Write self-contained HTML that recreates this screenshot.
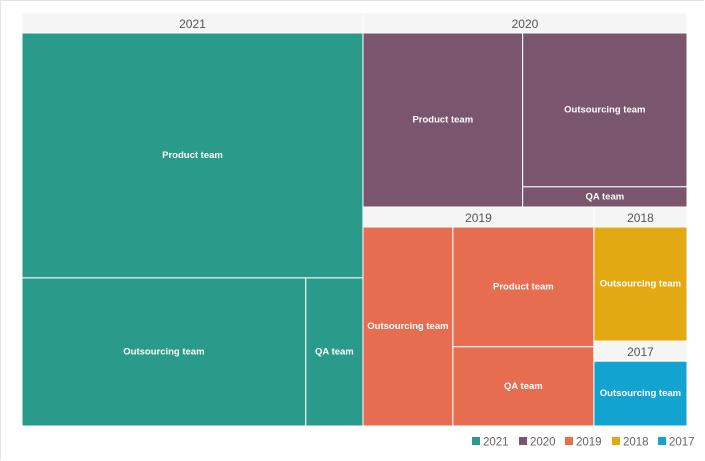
<!DOCTYPE html>
<html><head><meta charset="utf-8">
<style>
html,body{margin:0;padding:0;background:#fff;}
body{width:705px;height:461px;overflow:hidden;position:relative;font-family:"Liberation Sans",sans-serif;}
#frame{position:absolute;left:0;top:0;width:703px;height:459px;border:1px solid #e4e4e4;border-right:none;border-bottom:none;}
svg{position:absolute;left:0;top:0;}
</style></head>
<body>
<div id="frame"></div>
<svg id="chart" width="705" height="461"></svg>
<script>
const years = ["2021","2020","2019","2018","2017"];
const colors = ["#2a9a8a","#79566e","#e76d51","#e3a912","#12a3d1"];
const teams2021 = ["Product team","Outsourcing team","QA team"];
const values2021 = [87.8,44.2,8.9];
const teams2020 = ["Product team","Outsourcing team","QA team"];
const values2020 = [31.0,28.2,3.7];
const teams2019 = ["Outsourcing team","Product team","QA team"];
const values2019 = [19.7,18.6,12.3];
const teams2018 = ["Outsourcing team"];
const values2018 = [12.5];
const teams2017 = ["Outsourcing team"];
const values2017 = [7.9];

const groupTeams=[teams2021,teams2020,teams2019,teams2018,teams2017];
const groupVals=[values2021,values2020,values2019,values2018,values2017];
const NS="http://www.w3.org/2000/svg";
const svg=document.getElementById('chart');
const X0=22,Y0=13,W=665,H=413,HDR=20;

function layout(vals,x,y,w,h){
  const idx=vals.map((v,i)=>i).sort((a,b)=>vals[b]-vals[a]);
  let rem=vals.reduce((a,b)=>a+b,0);
  const out=[];
  idx.forEach((i,k)=>{
    if(k===idx.length-1){out[i]={x,y,w,h};return;}
    const f=vals[i]/rem;
    if(w>=h){const ww=w*f;out[i]={x,y,w:ww,h};x+=ww;w-=ww;}
    else{const hh=h*f;out[i]={x,y,w,h:hh};y+=hh;h-=hh;}
    rem-=vals[i];
  });
  return out;
}
function rect(r,fill,name){
  const e=document.createElementNS(NS,'rect');
  e.setAttribute('x',r.x);e.setAttribute('y',r.y);e.setAttribute('width',r.w);e.setAttribute('height',r.h);
  e.setAttribute('fill',fill);e.setAttribute('stroke','#fff');e.setAttribute('stroke-width','1');
  
  
  svg.appendChild(e);return e;
}
function text(x,y,s,fill,size,weight,name){
  const t=document.createElementNS(NS,'text');
  t.setAttribute('x',x);t.setAttribute('y',y);t.setAttribute('fill',fill);
  t.setAttribute('font-size',size);t.setAttribute('font-weight',weight);
  t.setAttribute('text-anchor','middle');t.setAttribute('dominant-baseline','central');
  t.setAttribute('font-family','Liberation Sans, sans-serif');
  t.textContent=s;
  
  
  svg.appendChild(t);return t;
}
const sums=groupVals.map(a=>a.reduce((p,c)=>p+c,0));
const groups=layout(sums,X0,Y0,W,H);
groups.forEach((g,gi)=>{
  rect({x:g.x,y:g.y,w:g.w,h:HDR},'#f5f5f5','header-'+years[gi]);
  text(g.x+g.w/2,g.y+HDR/2+1,years[gi],'#555',12,'normal','header-label-'+years[gi]);
  const leaves=layout(groupVals[gi],g.x,g.y+HDR,g.w,g.h-HDR);
  leaves.forEach((r,li)=>{
    const nm=years[gi]+'-'+groupTeams[gi][li].toLowerCase().replace(/ /g,'-');
    rect(r,colors[gi],'tile-'+nm);
    text(r.x+r.w/2,r.y+r.h/2,groupTeams[gi][li],'#fff',9.5,'bold','tile-label-'+nm);
  });
});
// legend
const lx=[472,519,565,612,658];
years.forEach((y,i)=>{
  const s=document.createElementNS(NS,'rect');
  s.setAttribute('x',lx[i]);s.setAttribute('y',437);s.setAttribute('width',8);s.setAttribute('height',8);s.setAttribute('fill',colors[i]);
  
  
  svg.appendChild(s);
  const t=document.createElementNS(NS,'text');
  t.setAttribute('x',lx[i]+11);t.setAttribute('y',445.5);t.setAttribute('fill','#666');t.setAttribute('font-size',11.5);
  t.setAttribute('font-family','Liberation Sans, sans-serif');
  t.textContent=y;
  
  
  svg.appendChild(t);
});
</script>
</body></html>
